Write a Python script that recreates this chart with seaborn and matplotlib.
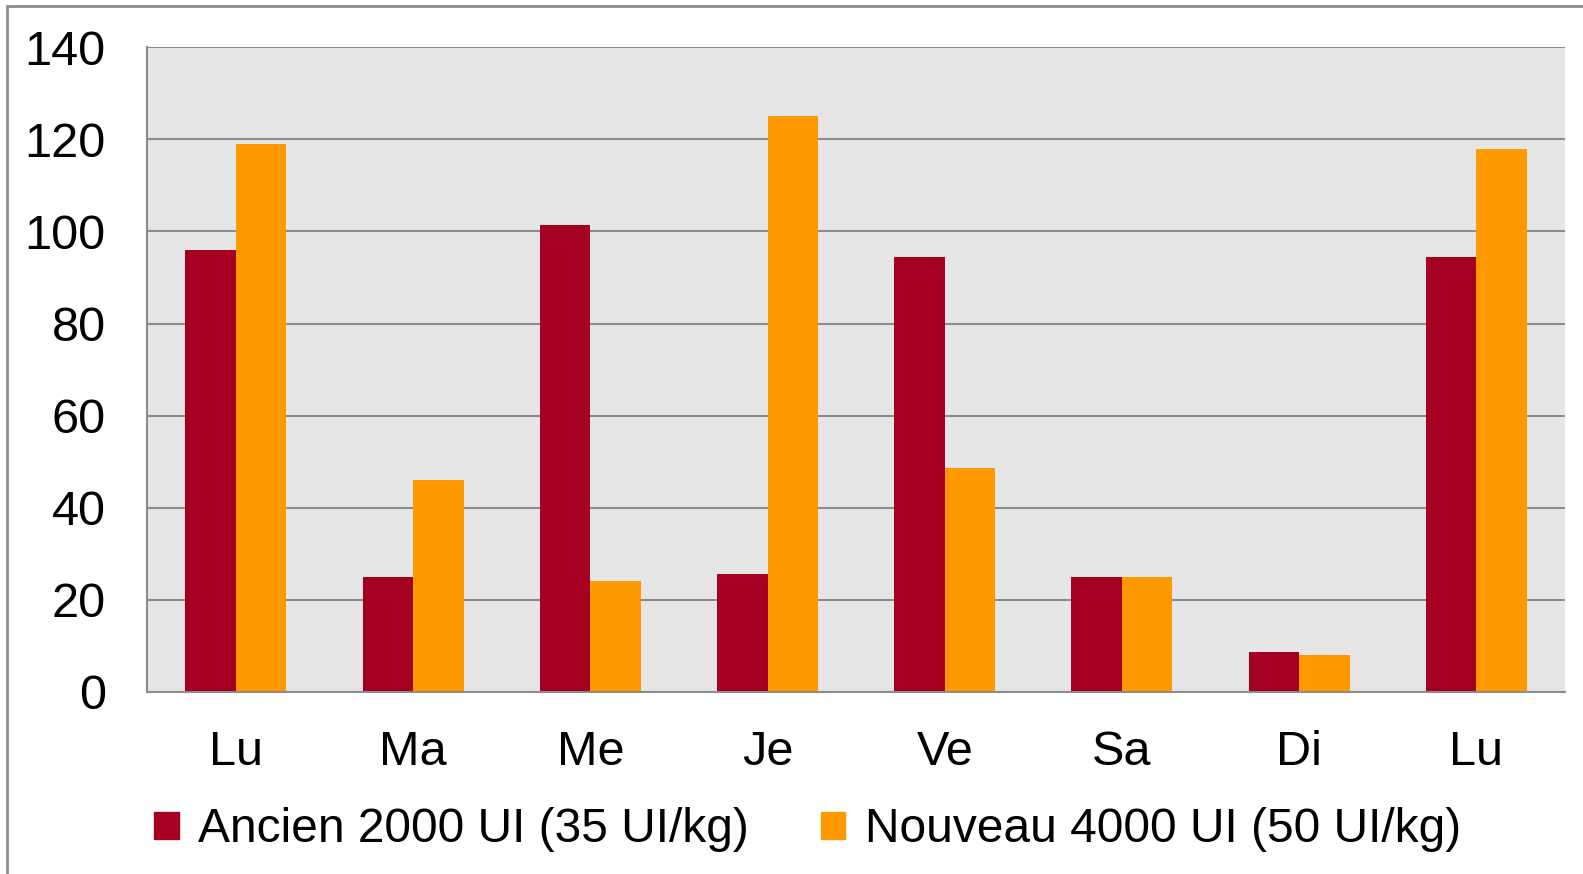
import matplotlib.pyplot as plt
import matplotlib.patches as mpatches
import pandas as pd
import seaborn as sns

days = ["Lu", "Ma", "Me", "Je", "Ve", "Sa", "Di", "Lu"]
ancien = [96, 25, 101.5, 25.5, 94.5, 25, 8.5, 94.5]
nouveau = [119, 46, 24, 125, 48.5, 25, 8, 118]
series = ["Ancien 2000 UI (35 UI/kg)", "Nouveau 4000 UI (50 UI/kg)"]
colors = ["#A50021", "#FF9900"]

# positions so that the two "Lu" stay separate categories
pos = list(range(len(days)))
df = pd.DataFrame({
    "pos": pos * 2,
    "value": ancien + nouveau,
    "serie": [series[0]] * len(days) + [series[1]] * len(days),
})

sns.set_style("white")
plt.rcParams["font.family"] = ["Liberation Sans", "DejaVu Sans"]
plt.rcParams["text.color"] = "black"
plt.rcParams["xtick.color"] = "black"
plt.rcParams["ytick.color"] = "black"

fig = plt.figure(figsize=(15.83, 8.74), dpi=100)
ax = fig.add_axes([0.0931, 0.2087, 0.8955, 0.737])

sns.barplot(data=df, x="pos", y="value", hue="serie", palette=colors,
            width=0.57, saturation=1, linewidth=0, ax=ax, legend=False)

ax.set_facecolor("#E6E6E6")
ax.set_xlim(-0.5, 7.5)
ax.set_ylim(0, 140)
ax.set_yticks(range(0, 141, 20))
ax.yaxis.grid(True, color="#8C8C8C", linewidth=1.5)
ax.set_axisbelow(True)
ax.set_xlabel("")
ax.set_ylabel("")

ax.set_xticks(pos)
ax.set_xticklabels(days)
ax.set_xticks([p - 0.5 for p in pos] + [7.5], minor=True)
ax.tick_params(axis="x", which="major", length=0, pad=28, labelsize=35)
ax.tick_params(axis="x", which="minor", length=10, width=1.5, color="#8C8C8C")
ax.tick_params(axis="y", length=10, width=1.5, color="#8C8C8C",
               labelcolor="black", pad=20, labelsize=35)

for side in ["top", "right"]:
    ax.spines[side].set_visible(False)
for side in ["left", "bottom"]:
    ax.spines[side].set_color("#8C8C8C")
    ax.spines[side].set_linewidth(1.5)

handles = [mpatches.Patch(color=c, label=s) for c, s in zip(colors, series)]
fig.legend(handles=handles, loc="center", bbox_to_anchor=(0.51, 1 - 830 / 874),
           ncol=2, frameon=False, fontsize=34.5, handlelength=0.52, handleheight=0.52,
           handletextpad=0.4, columnspacing=1.5, labelcolor="black")

# outer chart border
fig.patches.append(mpatches.Rectangle((7 / 1583, -0.1), 2, 1.1 - 6 / 874,
                                      transform=fig.transFigure, fill=False,
                                      edgecolor="#8C8C8C", linewidth=2))

fig.savefig("out.png", dpi=100)
